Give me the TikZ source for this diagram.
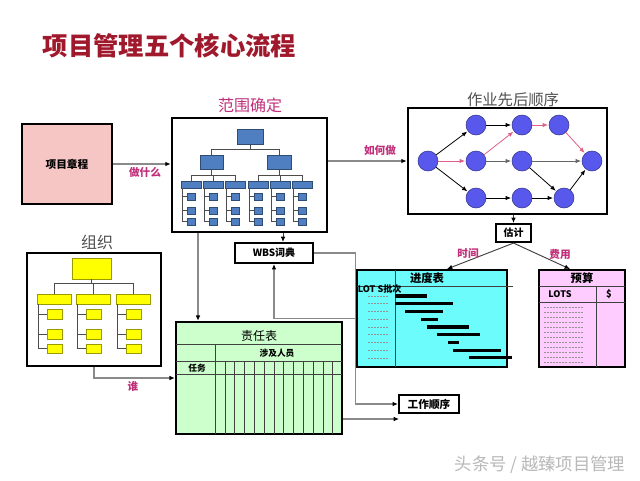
\documentclass[tikz,border=0pt]{standalone}
\usepackage{fontspec}
\setmainfont{Noto Sans CJK SC}
\usetikzlibrary{arrows.meta,fit}
\definecolor{titlered}{HTML}{A0182C}
\definecolor{lblmag}{HTML}{C0307A}
\definecolor{charterpink}{HTML}{F5C6C4}
\definecolor{wbsblue}{HTML}{4F7FC0}
\definecolor{nodeblue}{HTML}{5858EC}
\definecolor{redarr}{HTML}{E06088}
\definecolor{yel}{HTML}{FFFF00}
\definecolor{greenb}{HTML}{CCFFCC}
\definecolor{cyanb}{HTML}{6CFCFC}
\definecolor{pinkb}{HTML}{FFCCFF}
\definecolor{linegray}{HTML}{8A8A8A}
\definecolor{ttlgray}{HTML}{505050}
\begin{document}
\begin{tikzpicture}[x=0.75pt,y=-0.75pt,
  conn/.style={draw=linegray, line width=0.8pt, -{Latex[length=4pt,width=3.5pt,color=black]}},
  dconn/.style={draw=black!75, line width=0.7pt, -{Latex[length=4pt,width=3.5pt,color=black]}},
  tbox/.style={draw=black, line width=2pt, inner sep=0pt},
  lbl/.style={text=lblmag, font=\bfseries\fontsize{8}{9}\selectfont},
  wb/.style={fill=wbsblue, draw=wbsblue!60!black, line width=0.4pt, inner sep=0pt},
  yb/.style={fill=yel, draw=yel!60!black, line width=0.4pt, inner sep=0pt},
  tree/.style={draw=black!70, line width=0.5pt},
  cn/.style={circle, fill=nodeblue, draw=nodeblue!60!black, line width=0.4pt, minimum size=15pt, inner sep=0pt},
  ne/.style={draw=black, line width=0.6pt, shorten >=0.5pt, -{Latex[length=4pt,width=3.2pt]}},
  re/.style={draw=redarr, line width=0.6pt, shorten >=0.5pt, -{Latex[length=4pt,width=3.2pt]}},
  tl/.style={draw=black!75, line width=0.5pt},
  dots/.style={draw=gray!85, line width=0.4pt, dash pattern=on 1.5pt off 0.8pt},
  bar/.style={fill=black}
]
\fill[white] (0,0) rectangle (640,480);
\useasboundingbox (0,0) rectangle (640,480);

% title
\node[anchor=west, text=titlered, font=\bfseries\fontsize{19}{20}\selectfont] (title) at (38,46) {项目管理五个核心流程};

% project charter
\node[tbox, line width=1.6pt, fill=charterpink, minimum width=67.5pt, minimum height=60pt, font=\bfseries\fontsize{8}{9}\selectfont] (charter) at (67,164) {项目章程};

% WBS box
\node[tbox, fit={(172,118)(327,232)}] (wbs) {};
\node[text=lblmag, font=\fontsize{12}{12}\selectfont] (wbst) at (250,105) {范围确定};
\node[wb, fit={(237,129)(263,144)}] (w1) {};
\node[wb, fit={(200,155)(223,169)}] (w2a) {};
\node[wb, fit={(267,155)(291,169)}] (w2b) {};
\draw[tree] (w1.south) -- ++(0,5) -| (w2a.north);
\draw[tree] (w1.south) -- ++(0,5) -| (w2b.north);
\foreach \x [count=\i] in {181,203,225,248,270,292} {
  \node[wb, fit={(\x,181)(\x+20,188)}] (w3-\i) {};
  \foreach \yy [count=\j] in {193,207,218} {
    \node[wb, fit={(\x+6,\yy)(\x+14,\yy+7)}] (w4-\i-\j) {};
    \draw[tree] (w4-\i-\j.west) -- ++(-4,0);
  }
  \draw[tree] ([xshift=1.5pt]w3-\i.south west) |- (w4-\i-3.west);
}
\foreach \i in {1,2,3} \draw[tree] (w2a.south) -- ++(0,6) -| (w3-\i.north);
\foreach \i in {4,5,6} \draw[tree] (w2b.south) -- ++(0,6) -| (w3-\i.north);

% charter -> wbs
\draw[conn] (charter.east) -- (charter.east -| wbs.west);
\node[lbl] (l1) at (145,172) {做什么};

% network box
\node[tbox, fit={(408,108)(607,214)}] (net) {};
\node[text=ttlgray, font=\fontsize{11.5}{12}\selectfont] (nett) at (513,100) {作业先后顺序};
\node[cn] (n0) at (428,161) {};
\node[cn] (n1) at (476,125) {};
\node[cn] (n2) at (522,125) {};
\node[cn] (n3) at (559,125) {};
\node[cn] (n4) at (476,161) {};
\node[cn] (n5) at (522,161) {};
\node[cn] (n6) at (592,161) {};
\node[cn] (n7) at (476,198) {};
\node[cn] (n8) at (522,198) {};
\node[cn] (n9) at (564,198) {};
\draw[ne] (n0) -- (n1);
\draw[re] (n0) -- (n4);
\draw[ne] (n0) -- (n7);
\draw[ne] (n1) -- (n2);
\draw[re] (n4) -- (n2);
\draw[re] (n2) -- (n3);
\draw[re] (n3) -- (n6);
\draw[ne, draw=black!60] (n4) -- (n5);
\draw[ne, draw=black!60] (n5) -- (n6);
\draw[ne] (n5) -- (n9);
\draw[ne] (n7) -- (n8);
\draw[ne] (n8) -- (n9);
\draw[ne] (n9) -- (n6);

% wbs -> net
\draw[conn] (wbs.east |- n0) -- (net.west |- n0);
\node[lbl] (l2) at (380,150) {如何做};

% estimate
\node[tbox, line width=1.6pt, minimum width=26.25pt, minimum height=13.5pt, font=\bfseries\fontsize{7.5}{8}\selectfont] (est) at (513.5,233) {估计};
\draw[dconn] (est.north |- net.south) -- (est.north);

% progress table
\node[draw=black, line width=1.5pt, fill=cyanb, fit={(357,270)(507,367)}, inner sep=0pt] (prog) {};
\draw[tl] (357,286) -- (513,286);
\draw[tl] (395,270) -- (395,367);
\node[font=\bfseries\fontsize{8.5}{9}\selectfont] (progt) at (427,278) {进度表};
\node[anchor=west, font=\bfseries\fontsize{6.8}{7}\selectfont, inner sep=0pt] (lots1) at (357.5,289) {LOT S批次};
\foreach \yy in {296,303,311,319,327,334,342,350,358} \draw[dots] (368,\yy) -- (389,\yy);
\foreach \a/\b/\yy in {395/427/296, 395/453/303.5, 405/443/311.5, 421/438/319.5, 427/469/327, 437/480/334.5, 448/459/342.5, 453/501/350.5, 469/512/357.5}
  \fill[bar] (\a,\yy-1.8) rectangle (\b,\yy+1.8);

% budget table
\node[draw=black, line width=1.5pt, fill=pinkb, fit={(539,270)(625,367)}, inner sep=0pt] (bud) {};
\draw[tl] (539,286) -- (625,286);
\draw[tl] (539,302) -- (625,302);
\draw[tl] (596,286) -- (596,367);
\node[font=\bfseries\fontsize{8.5}{9}\selectfont] (budt) at (582,278) {预算};
\node[font=\bfseries\fontsize{6.8}{7}\selectfont] (lots2) at (560,294) {LOTS};
\node[font=\bfseries\fontsize{7}{7}\selectfont] (dollar) at (609,294) {\$};
\foreach \k in {0,...,11} \draw[dots] (544,307+\k*5) -- (583,307+\k*5);

% estimate -> tables
\draw[dconn] (est.south) -- ([xshift=11.25pt]prog.north);
\draw[dconn] (est.south) -- ([xshift=-9pt]bud.north);
\node[lbl] (l3) at (468,253) {时间};
\node[lbl] (l4) at (560,254) {费用};

% WBS dictionary
\node[tbox, line width=1.6pt, minimum width=58.5pt, minimum height=15pt, font=\bfseries\fontsize{7.5}{8}\selectfont] (dict) at (274,253) {WBS词典};
\coordinate (dtop) at ([xshift=6.75pt]dict.north);
\draw[dconn] (dtop |- wbs.south) -- (dtop);

% responsibility table
\node[draw=black, line width=1.8pt, fill=greenb, fit={(176,322)(342,434)}, inner sep=0pt] (resp) {};
\draw[tl] (176,344) -- (342,344);
\draw[tl] (176,361) -- (342,361);
\draw[tl] (176,374) -- (342,374);
\draw[tl] (215,344) -- (215,434);
\foreach \k in {0,...,11} \draw[tl] (225+\k*9.8,361) -- (225+\k*9.8,434);
\node[font=\fontsize{9}{10}\selectfont] (respt) at (259,336) {责任表};
\node[font=\bfseries\fontsize{6.5}{7}\selectfont] (people) at (277,353) {涉及人员};
\node[font=\bfseries\fontsize{6.5}{7}\selectfont] (task) at (197,368) {任务};
\coordinate (rtop) at ([xshift=-45.75pt]resp.north);
\draw[conn] (rtop |- wbs.south) -- (rtop);

% work order
\node[tbox, line width=1.6pt, minimum width=45pt, minimum height=13.5pt, font=\bfseries\fontsize{8}{9}\selectfont] (work) at (429,404) {工作顺序};
\draw[conn] (prog.west) -| (dict.south);
\draw[conn] (dict.east) -- ++(41,0) |- (work.west);
\coordinate (wend) at (399,419);
\draw[conn] (resp.east |- wend) -- (wend);

% organisation
\node[text=ttlgray, font=\fontsize{12}{12}\selectfont] (orgt) at (97,242) {组织};
\node[tbox, fit={(27,253)(161,366)}] (org) {};
\node[yb, fit={(72,258)(111,279)}] (o1) {};
\foreach \x [count=\i] in {37,76,116} {
  \node[yb, fit={(\x,294)(\x+34,304)}] (o2-\i) {};
  \draw[tree] (o1.south) -- ++(0,4) -| (o2-\i.north);
  \foreach \yy/\hh [count=\j] in {309/10,329/10,344/9} {
    \node[yb, fit={(\x+10,\yy)(\x+25,\yy+\hh)}] (o3-\i-\j) {};
    \draw[tree] (o3-\i-\j.west) -- ++(-8,0);
  }
  \draw[tree] ([xshift=1.5pt]o2-\i.south west) |- (o3-\i-3.west);
}
\draw[conn] (org.south) |- (resp.west);
\node[lbl] (l5) at (133,386) {谁};

% watermark
\node[text=black!28, font=\fontsize{13}{14}\selectfont] (wm) at (540,465) {头条号 / 越臻项目管理};
\end{tikzpicture}
\end{document}
